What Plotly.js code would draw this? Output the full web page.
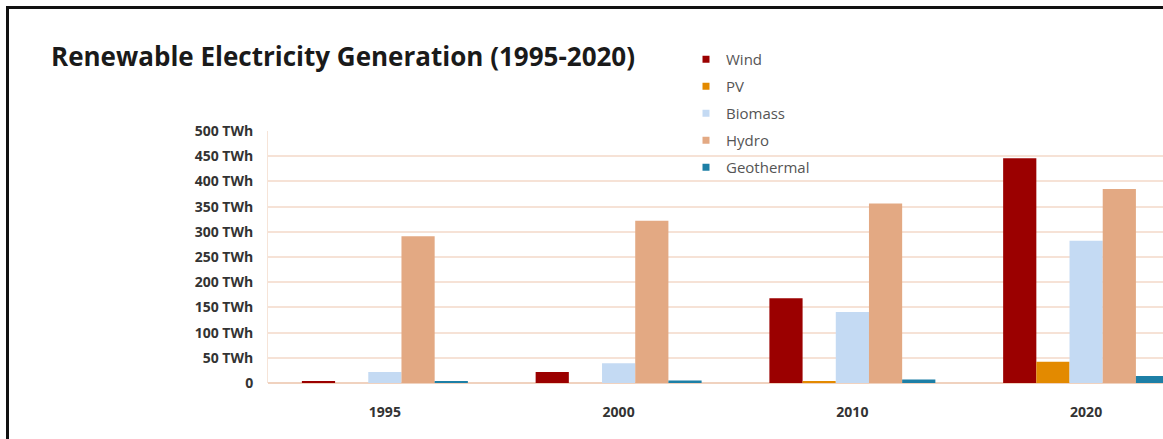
<!DOCTYPE html>
<html>
<head>
<meta charset="utf-8">
<script src="https://cdn.plot.ly/plotly-3.0.1.min.js"></script>
<style>
  html, body { margin: 0; padding: 0; background: #fff; overflow: hidden; }
  #wrap { position: relative; width: 1163px; height: 439px; overflow: hidden; }
  #chart { position: absolute; left: 0; top: 0; width: 1250px; height: 439px; }
  #frame { position: absolute; left: 6px; top: 6px; width: 2000px; height: 2000px;
           border-left: 3px solid #111; border-top: 3px solid #111; pointer-events: none; }
</style>
</head>
<body>
<div id="wrap">
  <div id="chart"></div>
  <div id="frame"></div>
</div>
<script>
// Years on the category axis
const years = ['1995', '2000', '2010', '2020'];

// Generation per source, TWh
const wind       = [4, 22, 168, 446];
const pv         = [0, 0, 4, 42];
const biomass    = [22, 39, 141, 282];
const hydro      = [291, 322, 356, 385];
const geothermal = [4, 5, 7, 14];

// Y axis ticks
const yTickVals = [0, 50, 100, 150, 200, 250, 300, 350, 400, 450, 500];
const yTickText = ['0', '50 TWh', '100 TWh', '150 TWh', '200 TWh', '250 TWh',
                   '300 TWh', '350 TWh', '400 TWh', '450 TWh', '500 TWh'];

const seriesNames  = ['Wind', 'PV', 'Biomass', 'Hydro', 'Geothermal'];
const seriesValues = [wind, pv, biomass, hydro, geothermal];
const seriesColors = ['#9b0000', '#e38a00', '#c4daf3', '#e3a983', '#1d7fa6'];

const FONT = '"Open Sans", "DejaVu Sans", sans-serif';

const traces = [];
seriesNames.forEach((name, i) => {
  traces.push({
    type: 'bar',
    name: name,
    x: years,
    y: seriesValues[i],
    marker: { color: seriesColors[i], line: { width: 0 } },
    showlegend: false,
    hoverinfo: 'x+y+name'
  });
});
// Small square legend keys
seriesNames.forEach((name, i) => {
  traces.push({
    type: 'scatter',
    mode: 'markers',
    name: name,
    legendgroup: name,
    x: [null],
    y: [null],
    marker: { symbol: 'square', size: 7, color: seriesColors[i] },
    showlegend: true,
    hoverinfo: 'skip'
  });
});

const layout = {
  width: 1250,
  height: 439,
  margin: { l: 268, r: 47, t: 131, b: 56, pad: 0 },
  paper_bgcolor: '#ffffff',
  plot_bgcolor: '#ffffff',
  barmode: 'group',
  bargap: 0.29,
  bargroupgap: 0,
  title: {
    text: 'Renewable Electricity Generation (1995-2020)',
    font: { family: FONT, size: 26, color: '#1a1a1a', weight: 700 },
    xref: 'container', yref: 'container',
    x: 51 / 1250, xanchor: 'left',
    y: 1 - 57 / 439, yanchor: 'middle'
  },
  xaxis: {
    type: 'category',
    showgrid: false,
    zeroline: false,
    showline: false,
    ticks: '',
    ticklabelstandoff: 19,
    tickfont: { family: FONT, size: 14, color: '#333333', weight: 700 },
    fixedrange: true
  },
  yaxis: {
    range: [0, 500],
    tickvals: yTickVals,
    ticktext: yTickText,
    showgrid: true,
    gridcolor: '#f6e2d6',
    gridwidth: 1.5,
    zeroline: true,
    zerolinecolor: '#f0d2bf',
    zerolinewidth: 1.5,
    showline: true,
    linecolor: '#f6e4d8',
    linewidth: 1,
    ticks: '',
    ticklabelstandoff: 11,
    tickfont: { family: FONT, size: 14, color: '#333333', weight: 700 },
    fixedrange: true
  },
  showlegend: true,
  legend: {
    x: (686 - 268) / 935,
    xanchor: 'left',
    y: (383 - 43) / 252,
    yanchor: 'top',
    bgcolor: 'rgba(0,0,0,0)',
    borderwidth: 0,
    tracegroupgap: 4.5,
    font: { family: FONT, size: 15, color: '#555555' }
  },
  hovermode: 'closest'
};

Plotly.newPlot('chart', traces, layout, { displayModeBar: false, staticPlot: false });
</script>
</body>
</html>
